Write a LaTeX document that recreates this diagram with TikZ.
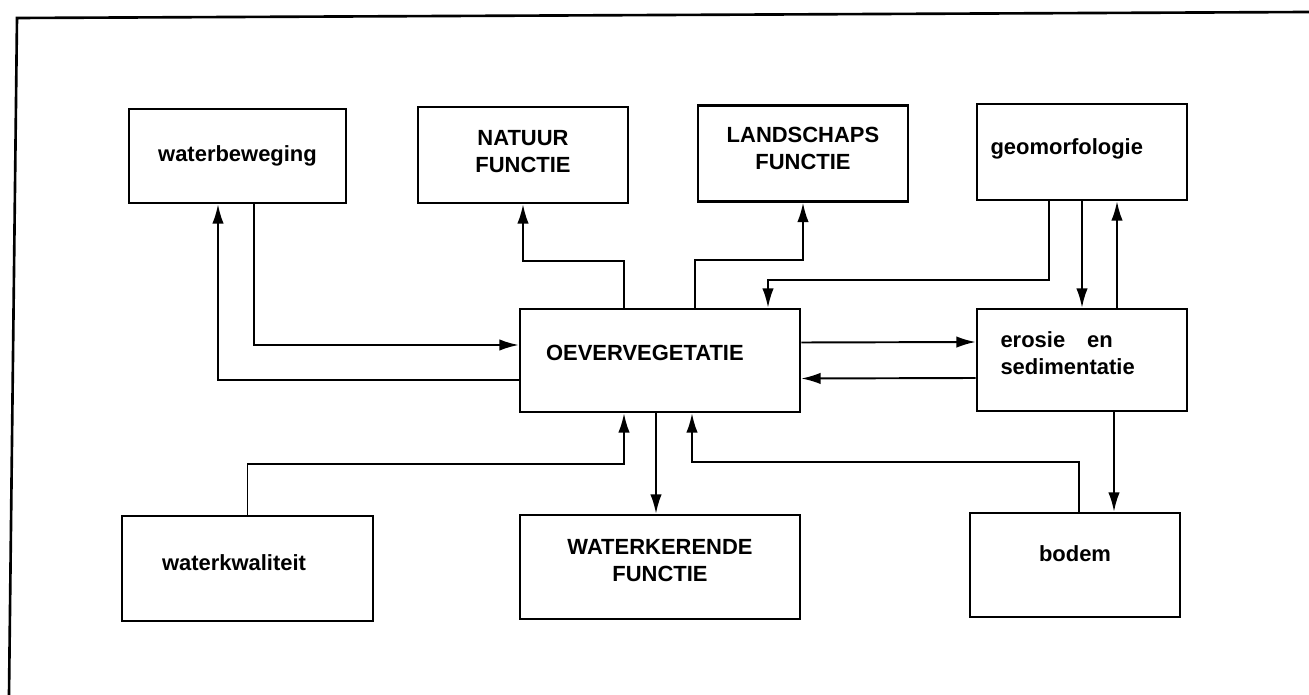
\documentclass[tikz,border=0pt]{standalone}
\usepackage{fontspec}
\setmainfont{Liberation Sans}
\usetikzlibrary{arrows.meta,calc}

\begin{document}
\begin{tikzpicture}[
 x=0.02cm,y=-0.02cm,
 every node/.style={align=center,font=\bfseries\fontsize{12.5}{15}\selectfont},
 obox/.style={draw,line width=1.5pt,inner sep=0pt,
 minimum width=4.2cm,minimum height=1.92cm},
 owide/.style={obox,minimum width=5.6cm,minimum height=2.06cm},
 oleft/.style={align=left,inner xsep=#1},
 oflow/.style={-{Latex[length=11pt,width=6.5pt]},line width=1.1pt}]
\useasboundingbox (0,0) rectangle (1309,695);
\draw[line width=1.5pt] (9,695) -- (17,18) -- (1309,12);
\node[obox,minimum width=4.34cm,minimum height=1.88cm] (wb) at (237.5,156) {waterbeweging};
\node[obox,text depth=.14cm] (nat) at (523,155) {NATUUR\\FUNCTIE};
\node[obox,text depth=.2cm] (land) at (803,153.5) {LANDSCHAPS\\FUNCTIE};
\node[obox,oleft=.26cm,text width=3.66cm,text depth=.2cm] (geo) at (1082,152) {geomorfologie};
\node[owide,oleft=.52cm,text width=4.56cm,text depth=.32cm] (oev) at (660,360.5) {OEVERVEGETATIE};
\node[obox,oleft=.46cm,text width=3.26cm,minimum height=2.04cm,text depth=.8cm] (eros) at (1082,360) {erosie\hspace{1em}en\\sedimentatie};
\node[obox,oleft=.8cm,text width=3.42cm,minimum height=2.1cm,text depth=.22cm] (wk) at (247.5,568.5) {waterkwaliteit};
\node[owide,minimum height=2.08cm,text depth=.26cm] (wker) at (660,567) {WATERKERENDE\\FUNCTIE};
\node[obox,minimum height=2.08cm,text depth=.44cm] (bod) at (1075,565) {bodem};
\draw[oflow] ($(wb.south)+(16.5,0)$) |- ($(oev.west)+(0,-15.5)$);
\draw[oflow] ($(oev.west)+(0,19.5)$) -| ($(wb.south)+(-19.5,0)$);
\draw[oflow] ($(oev.north)+(-36,0)$) -- ++(0,-47) -| (nat.south);
\draw[oflow] ($(oev.north)+(35,0)$) -- ++(0,-48) -| (land.south);
\draw[oflow] ($(geo.south)+(-33,0)$) -- ++(0,79) -| ($(oev.north)+(108,0)$);
\draw[oflow] (geo.south) -- (eros.north);
\draw[oflow] ($(eros.north)+(35,0)$) -- ($(geo.south)+(35,0)$);
\draw[oflow] ($(oev.east)+(0,-18)$) -- ($(eros.west)+(0,-18)$);
\draw[oflow] ($(eros.west)+(0,18)$) -- ($(oev.east)+(0,18)$);
\draw[oflow] ($(oev.south)+(-4,0)$) -- ($(wker.north)+(-4,0)$);
\draw[oflow] (wk.north) -- ++(0,-51) -| ($(oev.south)+(-36,0)$);
\draw[oflow] ($(bod.north)+(4,0)$) -- ++(0,-50) -| ($(oev.south)+(32,0)$);
\draw[oflow] ($(eros.south)+(32,0)$) -- ($(bod.north)+(39,0)$);
\end{tikzpicture}
\end{document}
